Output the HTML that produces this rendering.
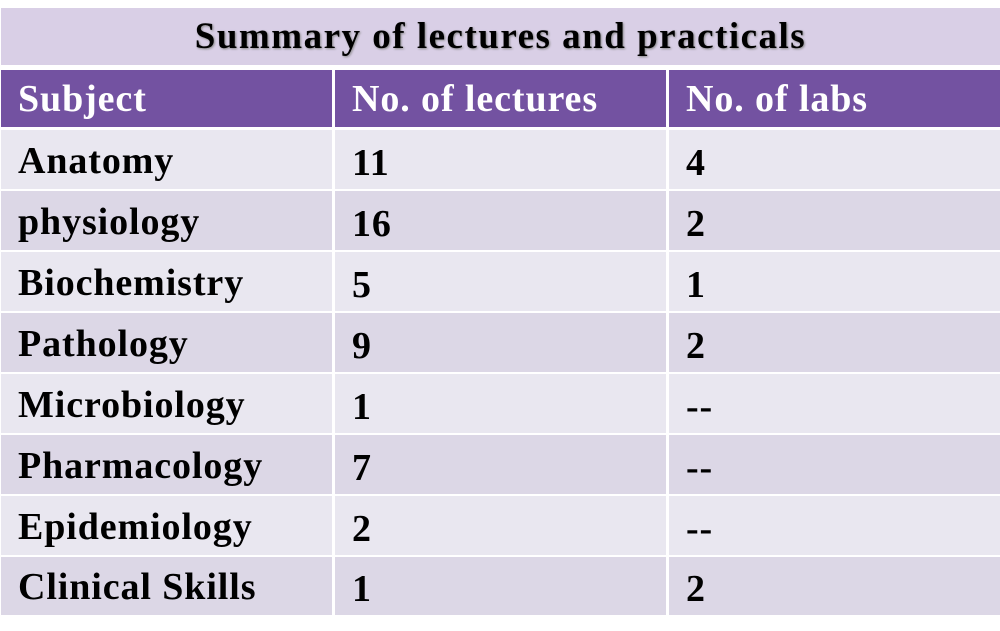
<!DOCTYPE html>
<html><head><style>
body{margin:0;width:1000px;height:631px;background:#fff;position:relative;overflow:hidden;font-family:"Liberation Serif",serif;font-weight:bold}
.r{position:absolute;left:1px;width:999px;display:flex;gap:3px}
.r div{box-sizing:border-box;padding-left:17px;font-size:38px;letter-spacing:0.9px;line-height:1;display:flex;align-items:center;height:100%;white-space:nowrap}
.r div:nth-child(1){width:331px}
.r div:nth-child(2){width:331px}
.r div:nth-child(3){width:331px}
.t{position:absolute;left:1px;top:8px;width:999px;height:57px;background:#d9cfe6;font-size:37px;letter-spacing:1.5px;text-align:center;line-height:57px;text-shadow:1px 1px 2px #888;color:#000;white-space:nowrap}
.h div{background:#7352a1;color:#fff}
.o div{background:#e9e7f0;color:#000}
.e div{background:#dcd7e6;color:#000}
.b div{padding-top:2px}
.b div:nth-child(n+2){padding-top:6px}
</style></head><body>
<div class="t">Summary of lectures and practicals</div>
<div class="r h" style="top:70px;height:57px"><div>Subject</div><div>No. of lectures</div><div>No. of labs</div></div>
<div class="r o b" style="top:130px;height:59px"><div>Anatomy</div><div>11</div><div>4</div></div>
<div class="r e b" style="top:191px;height:59px"><div>physiology</div><div>16</div><div>2</div></div>
<div class="r o b" style="top:252px;height:59px"><div>Biochemistry</div><div>5</div><div>1</div></div>
<div class="r e b" style="top:313px;height:59px"><div>Pathology</div><div>9</div><div>2</div></div>
<div class="r o b" style="top:374px;height:59px"><div>Microbiology</div><div>1</div><div>--</div></div>
<div class="r e b" style="top:435px;height:59px"><div>Pharmacology</div><div>7</div><div>--</div></div>
<div class="r o b" style="top:496px;height:59px"><div>Epidemiology</div><div>2</div><div>--</div></div>
<div class="r e b" style="top:557px;height:58px"><div>Clinical Skills</div><div>1</div><div>2</div></div>
</body></html>
